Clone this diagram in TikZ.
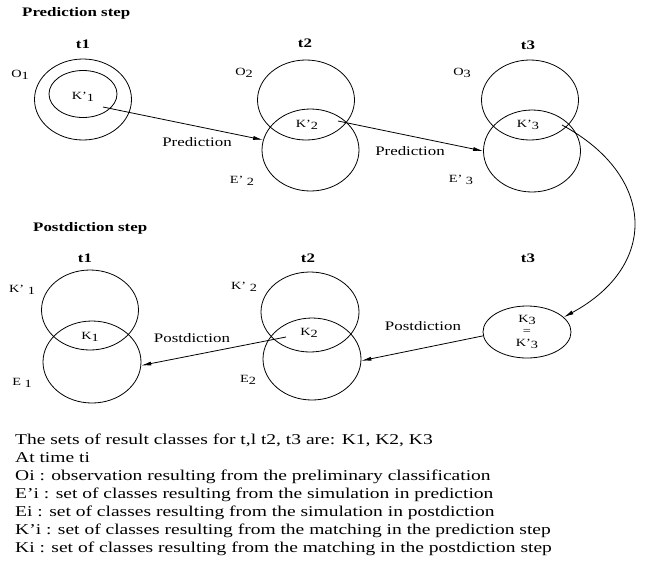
\documentclass[tikz,border=0pt]{standalone}
\usepackage{fontspec}
\setmainfont{Liberation Serif}[FakeStretch=1.3]
\usetikzlibrary{shapes.geometric,arrows.meta}
\newcommand\sbs[1]{\raisebox{-0.45ex}{#1}}
\begin{document}
\begin{tikzpicture}[x=1pt,y=-1pt,
  set/.style={draw,ellipse,line width=0.8pt,inner sep=0pt},
  lab/.style={font=\fontsize{11}{13}\selectfont,inner sep=0pt},
  tlab/.style={font=\fontsize{13}{15}\selectfont\bfseries,inner sep=0pt},
  ttl/.style={font=\fontsize{13}{15}\selectfont\bfseries,inner sep=0pt,anchor=west},
  plab/.style={font=\fontsize{13}{15}\selectfont,inner sep=0pt},
  txt/.style={font=\fontsize{15}{18}\selectfont,anchor=base west,inner sep=0pt},
  arr/.style={line width=0.8pt,-{Latex[length=10pt,width=4pt]}}]
\useasboundingbox (0,0) rectangle (645,563);
% ---------- Prediction step ----------
\node[ttl] (pstep) at (22,13) {Prediction step};
\node[tlab] (t1a) at (83,44) {t1};
\node[tlab] (t2a) at (305,43) {t2};
\node[tlab] (t3a) at (528,45) {t3};
\node[set,minimum width=97pt,minimum height=81pt] (o1) at (83,99.5) {};
\node[set,minimum width=68pt,minimum height=47pt] (kp1) at (83,94) {};
\node[set,minimum width=97pt,minimum height=80pt] (o2) at (306,100) {};
\node[set,minimum width=97pt,minimum height=82pt] (ep2) at (310.5,150) {};
\node[set,minimum width=97pt,minimum height=80pt] (o3) at (530,100) {};
\node[set,minimum width=97pt,minimum height=82pt] (ep3) at (532,151) {};
\node[lab] (lo1) at (20,75) {O\sbs{1}};
\node[lab] (lk1) at (83,97) {K’\sbs{1}};
\node[lab] (lo2) at (244,73) {O\sbs{2}};
\node[lab] (lk2) at (307,125) {K’\sbs{2}};
\node[lab] (le2) at (242,181) {E’ \sbs{2}};
\node[lab] (lo3) at (462,73) {O\sbs{3}};
\node[lab] (lk3) at (528,125) {K’\sbs{3}};
\node[lab] (le3) at (461,180) {E’ \sbs{3}};
\node[plab] (pr1) at (197,142) {Prediction};
\node[plab] (pr2) at (410,151) {Prediction};
% ---------- Postdiction step ----------
\node[ttl] (qstep) at (33,228) {Postdiction step};
\node[tlab] (t1b) at (85,258) {t1};
\node[tlab] (t2b) at (308,258) {t2};
\node[tlab] (t3b) at (528,258) {t3};
\node[set,minimum width=97pt,minimum height=80pt] (kb1) at (90,310) {};
\node[set,minimum width=98pt,minimum height=82pt] (e1) at (92,362) {};
\node[set,minimum width=98pt,minimum height=80pt] (kb2) at (310,312) {};
\node[set,minimum width=98pt,minimum height=82pt] (e2) at (312,359) {};
\node[set,minimum width=88pt,minimum height=52pt,align=center,font=\fontsize{11}{14}\selectfont] (k3) at (527,332) {K\sbs{3}\\[-2pt]=\\[-2pt]K’\sbs{3}};
\node[lab] (lkb1) at (22,290) {K’ \sbs{1}};
\node[lab] (lk1b) at (90,337) {K\sbs{1}};
\node[lab] (le1) at (22,383) {E \sbs{1}};
\node[lab] (lkb2) at (244,287) {K’ \sbs{2}};
\node[lab] (lk2b) at (309,333) {K\sbs{2}};
\node[lab] (leb2) at (248,380) {E\sbs{2}};
\node[plab] (po1) at (192,338) {Postdiction};
\node[plab] (po2) at (423,326) {Postdiction};
% ---------- connectors ----------
\draw[arr] ([shift={(20,10)}]lk1.center) -- (ep2.168);
\draw[arr] ([shift={(31,-4)}]lk2.center) -- (ep3.180);
\draw[arr] ([shift={(34,0)}]lk3.center) .. controls (655,175) and (660,265) .. (k3.22);
\draw[arr] (k3.185) -- (e2.-2);
\draw[arr] ([shift={(-23,4)}]lk2b.center) -- (e1.-4);
% ---------- legend ----------
\node[txt] (l1) at (15,444) {The sets of result classes for t,l t2, t3 are: K1, K2, K3};
\node[txt] (l2) at (15,462) {At time ti};
\node[txt] (l3) at (15,480) {Oi : observation resulting from the preliminary classification};
\node[txt] (l4) at (15,498) {E’i : set of classes resulting from the simulation in prediction};
\node[txt] (l5) at (15,516) {Ei : set of classes resulting from the simulation in postdiction};
\node[txt] (l6) at (15,534) {K’i : set of classes resulting from the matching in the prediction step};
\node[txt] (l7) at (15,552) {Ki : set of classes resulting from the matching in the postdiction step};
\end{tikzpicture}
\end{document}
